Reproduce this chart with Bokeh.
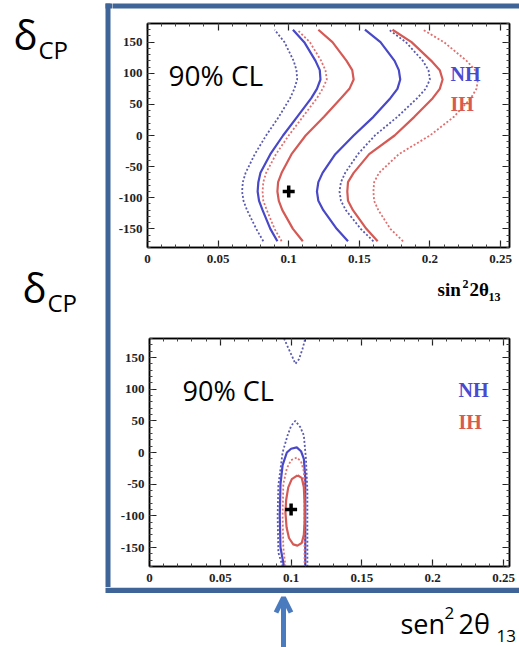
from bokeh.plotting import figure
from bokeh.layouts import column, row
from bokeh.models import (Range1d, LinearAxis, FixedTicker, CustomJSTickFormatter,
                          Label, Arrow, OpenHead)
from bokeh.embed import file_html
from bokeh.resources import INLINE

# ---------------- data ----------------
# Top panel: sin^2(2 theta13) of each contour branch at these delta_CP values
DELTA_TOP = [-170, -150, -120, -105, -90, -75, -60, -30, 0, 30, 60, 75, 90, 105, 120, 150, 170]
NH90_LOW  = [0.082, 0.077, 0.0705, 0.068, 0.067, 0.0675, 0.0695, 0.076, 0.084, 0.093, 0.101, 0.104, 0.106, 0.1055, 0.1035, 0.097, 0.090]
NH68_LOW  = [0.092, 0.087, 0.0815, 0.079, 0.078, 0.0785, 0.080, 0.087, 0.096, 0.106, 0.116, 0.120, 0.1225, 0.122, 0.119, 0.111, 0.103]
IH90_LOW  = [0.095, 0.090, 0.0845, 0.082, 0.0815, 0.082, 0.084, 0.091, 0.100, 0.110, 0.120, 0.124, 0.127, 0.126, 0.123, 0.115, 0.106]
IH68_LOW  = [0.110, 0.103, 0.0955, 0.093, 0.092, 0.0925, 0.095, 0.102, 0.112, 0.125, 0.137, 0.143, 0.146, 0.145, 0.141, 0.131, 0.121]
NH68_HIGH = [0.142, 0.134, 0.1245, 0.121, 0.120, 0.121, 0.124, 0.133, 0.146, 0.160, 0.172, 0.177, 0.179, 0.178, 0.175, 0.165, 0.154]
NH90_HIGH = [0.160, 0.151, 0.1405, 0.137, 0.136, 0.137, 0.140, 0.149, 0.161, 0.177, 0.191, 0.197, 0.200, 0.199, 0.195, 0.183, 0.171]
IH68_HIGH = [0.163, 0.155, 0.1455, 0.142, 0.1415, 0.142, 0.146, 0.157, 0.175, 0.189, 0.202, 0.207, 0.209, 0.207, 0.201, 0.187, 0.1735]
IH90_HIGH = [0.181, 0.172, 0.1635, 0.1605, 0.160, 0.1605, 0.164, 0.178, 0.200, 0.217, 0.229, 0.233, 0.234, 0.232, 0.226, 0.210, 0.195]

# Bottom panel contours (x = sin^2 2theta13, d = delta_CP)
B_NH90_TOP_X = [0.095, 0.098, 0.1015, 0.103, 0.1055, 0.108, 0.110]
B_NH90_TOP_D = [180, 165, 148, 140, 147, 163, 180]
B_NH90_X = [0.094, 0.091, 0.0905, 0.091, 0.094, 0.0975, 0.100, 0.103, 0.1065, 0.109, 0.1105, 0.1115, 0.1115, 0.1115, 0.1115]
B_NH90_D = [-180, -158, -100, -52, 0, 27, 42, 50, 40, 27, -10, -60, -100, -150, -180]
B_NH68_X = [0.095, 0.0925, 0.092, 0.0925, 0.094, 0.097, 0.100, 0.104, 0.107, 0.109, 0.110, 0.110, 0.110, 0.110]
B_NH68_D = [-180, -150, -100, -50, -20, 0, 6, 8, 2, -10, -40, -100, -150, -180]
B_IH90_X = [0.096, 0.0945, 0.094, 0.0945, 0.097, 0.100, 0.104, 0.107, 0.109, 0.1095, 0.1095, 0.1095, 0.1095]
B_IH90_D = [-180, -150, -100, -50, -25, -12, -8, -14, -30, -60, -100, -150, -180]
B_IH68_X = [0.1045, 0.1005, 0.098, 0.0965, 0.096, 0.0968, 0.0985, 0.1015, 0.1045, 0.1075, 0.109, 0.1095, 0.1095, 0.109, 0.1075, 0.1045]
B_IH68_D = [-36, -42, -55, -75, -95, -118, -135, -145, -147, -143, -130, -110, -80, -55, -40, -36]

BEST_X = [0.1]
BEST_D = [-90]

X_TICKS = [0, 0.05, 0.1, 0.15, 0.2, 0.25]
Y_TICKS = [-150, -100, -50, 0, 50, 100, 150]

# ---------------- styling ----------------
BLUE = "#4848c8"
BLUE_DOT = "#5a5ab0"
RED = "#d55a55"
RED_DOT = "#e07070"
FRAME = "#3e6498"
ARROW = "#4a7bbf"
SANS = "Open Sans"
SERIF = "Liberation Serif"


def no_align(p):
    if "frame_align" in p.properties():
        p.frame_align = False


def style(p):
    no_align(p)
    p.grid.visible = False
    p.outline_line_color = "black"
    p.outline_line_width = 1.5
    fmt = CustomJSTickFormatter(code="return String(Math.round(tick*100)/100);")
    blank = CustomJSTickFormatter(code="return '';")
    bottom_ax = p.below[0]
    left_ax = p.left[0]
    top_ax = LinearAxis(formatter=blank)
    right_ax = LinearAxis(formatter=blank)
    p.add_layout(top_ax, "above")
    p.add_layout(right_ax, "right")
    xminor = [i * 0.01 for i in range(0, 27)]
    yminor = list(range(-180, 181, 10))
    for ax in [bottom_ax, top_ax]:
        ax.ticker = FixedTicker(ticks=X_TICKS, minor_ticks=xminor)
    for ax in [left_ax, right_ax]:
        ax.ticker = FixedTicker(ticks=Y_TICKS, minor_ticks=yminor)
    bottom_ax.formatter = fmt
    left_ax.formatter = fmt
    for ax in [bottom_ax, left_ax, top_ax, right_ax]:
        ax.axis_line_color = "black"
        ax.axis_line_width = 1.5
        ax.major_tick_in = 7
        ax.major_tick_out = 0
        ax.minor_tick_in = 3
        ax.minor_tick_out = 0
        ax.major_tick_line_color = "#222"
        ax.minor_tick_line_color = "#444"
        ax.major_tick_line_width = 1.2
        ax.major_label_text_font = SERIF
        ax.major_label_text_font_style = "bold"
        ax.major_label_text_font_size = "13px"
        ax.major_label_text_color = "#222"
    bottom_ax.major_label_standoff = 7
    left_ax.major_label_standoff = 5
    for ax in [top_ax, right_ax]:
        ax.major_label_standoff = 0
        ax.major_label_text_font_size = "1px"


def mapper(L, R, T, B, xmax):
    def m(px, py):
        return (px - L) / (R - L) * xmax, 180 - (py - T) / (B - T) * 360
    return m


def lab(p, m, px, py, text, font, size, color="black", bold=False):
    # py is the wanted baseline; Bokeh draws the glyphs a little lower, so lift them
    x, y = m(px, py - 0.44 * size)
    p.add_layout(Label(x=x, y=y, text=text, text_font=font, text_font_size=f"{size}px",
                       text_font_style="bold" if bold else "normal", text_color=color,
                       text_baseline="alphabetic", text_align="left"))


def deco(x0, x1, y0, y1):
    """Blank figure whose data coordinates are page pixels (y downward)."""
    p = figure(width=x1 - x0, height=y1 - y0, x_range=Range1d(x0, x1), y_range=Range1d(y1, y0),
               x_axis_type=None, y_axis_type=None, output_backend="svg", toolbar_location=None,
               min_border=0, min_border_left=0, min_border_right=0, min_border_top=0, min_border_bottom=0)
    p.outline_line_color = None
    p.grid.visible = False
    no_align(p)
    return p


ident = lambda px, py: (px, py)

# ---------------- left strip: delta_CP labels + frame edge ----------------
left = deco(0, 112, 0, 587)
left.quad(left=[105], right=[112], top=[3], bottom=[8], fill_color=FRAME, line_color=None)
left.quad(left=[105], right=[110], top=[3], bottom=[587], fill_color=FRAME, line_color=None)
lab(left, ident, 13, 52, "δ", SANS, 40)
lab(left, ident, 38, 60, "CP", SANS, 24)
lab(left, ident, 22, 305, "δ", SANS, 40)
lab(left, ident, 47, 313, "CP", SANS, 24)

# ---------------- top strip: frame top edge ----------------
topline = deco(112, 519, 0, 14)
topline.quad(left=[100], right=[530], top=[3], bottom=[8], fill_color=FRAME, line_color=None)

# ---------------- top panel ----------------
XMAX_TOP = (509 - 147) / 1412
top = figure(width=407, height=256, x_range=Range1d(0, XMAX_TOP), y_range=Range1d(-180, 180),
             output_backend="svg", toolbar_location=None,
             min_border_left=35, min_border_right=10, min_border_top=9, min_border_bottom=23)
style(top)
mt = mapper(147, 509, 23, 247, XMAX_TOP)

top.line(NH90_LOW, DELTA_TOP, line_color=BLUE_DOT, line_width=1.8, line_dash="2 2")
top.line(IH90_LOW, DELTA_TOP, line_color=RED_DOT, line_width=1.8, line_dash="2 2")
top.line(NH68_LOW, DELTA_TOP, line_color=BLUE, line_width=2.2)
top.line(IH68_LOW, DELTA_TOP, line_color=RED, line_width=2.2)
top.line(NH68_HIGH, DELTA_TOP, line_color=BLUE, line_width=2.2)
top.line(NH90_HIGH, DELTA_TOP, line_color=BLUE_DOT, line_width=1.8, line_dash="2 2")
top.line(IH68_HIGH, DELTA_TOP, line_color=RED, line_width=2.2)
top.line(IH90_HIGH, DELTA_TOP, line_color=RED_DOT, line_width=1.8, line_dash="2 2")
top.scatter(BEST_X, BEST_D, marker="cross", size=12, line_width=3.5, line_color="black")

lab(top, mt, 168, 87, "90% CL", SANS, 28)
lab(top, mt, 450, 82, "NH", SERIF, 20, color="#4a4ad0", bold=True)
lab(top, mt, 450, 112, "IH", SERIF, 20, color="#d85a50", bold=True)

# ---------------- middle strip: top panel x label ----------------
mid = deco(112, 519, 270, 320)
lab(mid, ident, 437, 297, "sin", SERIF, 19, bold=True)
lab(mid, ident, 462, 289, "2", SERIF, 12, bold=True)
lab(mid, ident, 469, 297, "2θ", SERIF, 19, bold=True)
lab(mid, ident, 488, 302, "13", SERIF, 12, bold=True)

# ---------------- bottom panel ----------------
XMAX_BOT = (509 - 149) / 1416
bot = figure(width=407, height=267, x_range=Range1d(0, XMAX_BOT), y_range=Range1d(-180, 180),
             output_backend="svg", toolbar_location=None,
             min_border_left=37, min_border_right=10, min_border_top=18, min_border_bottom=21)
style(bot)
mb = mapper(149, 509, 338, 566, XMAX_BOT)

bot.line(B_NH90_TOP_X, B_NH90_TOP_D, line_color=BLUE_DOT, line_width=1.8, line_dash="2 2")
bot.line(B_NH90_X, B_NH90_D, line_color=BLUE_DOT, line_width=1.8, line_dash="2 2")
bot.line(B_NH68_X, B_NH68_D, line_color=BLUE, line_width=2.2)
bot.line(B_IH90_X, B_IH90_D, line_color=RED_DOT, line_width=1.8, line_dash="2 2")
bot.line(B_IH68_X, B_IH68_D, line_color=RED, line_width=2.2)
bot.scatter(BEST_X, BEST_D, marker="cross", size=12, line_width=3.5, line_color="black")

lab(bot, mb, 182, 402, "90% CL", SANS, 27)
lab(bot, mb, 458, 398, "NH", SERIF, 20, color="#4a4ad0", bold=True)
lab(bot, mb, 458, 430, "IH", SERIF, 20, color="#d85a50", bold=True)

# ---------------- bottom strip: frame edge, arrow, x label ----------------
base = deco(0, 519, 587, 647)
base.quad(left=[105], right=[519], top=[587], bottom=[592.5], fill_color=FRAME, line_color=None)
base.add_layout(Arrow(x_start=283, y_start=660, x_end=283, y_end=597,
                      line_color=ARROW, line_width=5,
                      end=OpenHead(size=15, line_color=ARROW, line_width=5)))
lab(base, ident, 400, 635, "sen", SANS, 27)
lab(base, ident, 444, 620, "2", SANS, 17)
lab(base, ident, 458, 635, "2θ", SANS, 27)
lab(base, ident, 496, 643, "13", SANS, 17)

layout = column(row(left, column(topline, top, mid, bot, spacing=0), spacing=0),
                base, spacing=0)
open("out.html", "w").write(file_html(layout, INLINE))
